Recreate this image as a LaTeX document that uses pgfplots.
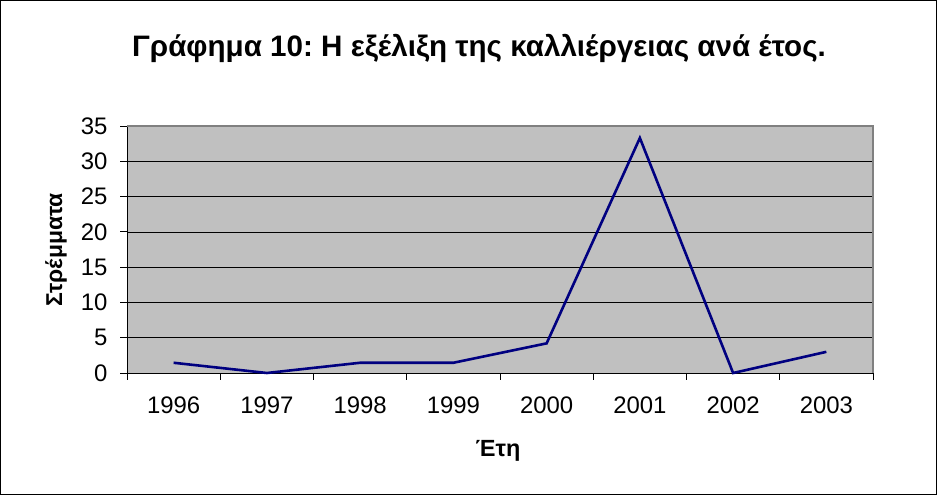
\documentclass[border=0pt]{standalone}
\usepackage{fontspec}
\setmainfont{Liberation Sans}
\usepackage{pgfplots}
\pgfplotsset{compat=1.18}
\definecolor{plotgray}{HTML}{C0C0C0}
\definecolor{edgegray}{HTML}{808080}
\definecolor{navyline}{HTML}{000080}
\frenchspacing
\begin{document}
\begin{tikzpicture}
\useasboundingbox (0,0) rectangle (937bp,495bp);
\draw[black, line width=0.8bp] (0.5bp,0.5bp) rectangle (936.5bp,494.5bp);
\begin{axis}[
  at={(127bp,122bp)}, anchor=south west,
  scale only axis, width=746bp, height=247bp,
  xmin=0.5, xmax=8.5, ymin=0, ymax=35,
  axis x line*=bottom, axis y line*=left,
  axis line style={-, black, line width=0.8bp},
  axis background/.style={fill=plotgray},
  ytick={0,5,...,35},
  ymajorgrids, major grid style={black, line width=0.7bp},
  xtick={0.5,1.5,...,8.5}, xticklabels={},
  extra x ticks={1,2,3,4,5,6,7,8},
  extra x tick labels={1996,1997,1998,1999,2000,2001,2002,2003},
  extra x tick style={major tick length=0pt, grid=none,
     xticklabel style={yshift=-20bp}},
  tick align=outside, major tick length=7bp,
  tick style={black, line width=0.8bp},
  /pgf/number format/assume math mode=true,
  ticklabel style={font=\fontsize{24}{26}\selectfont},
  yticklabel style={xshift=-9bp},
  clip=false,
]
\addplot[navyline, line width=2.6bp] coordinates {
 (1,1.45) (2,0) (3,1.45) (4,1.45) (5,4.2) (6,33.3) (7,0) (8,3)
};
\draw[edgegray, line width=2bp] (rel axis cs:0,1) -- (rel axis cs:1,1) -- (rel axis cs:1,0);
\end{axis}
\node[font=\bfseries\fontsize{29.7}{32}\selectfont] at (479bp,447bp) {Γράφημα 10: Η εξέλιξη της καλλιέργειας ανά έτος.};
\node[font=\bfseries\fontsize{23.5}{26}\selectfont] at (498bp,44bp) {Έτη};
\node[font=\bfseries\fontsize{23}{26}\selectfont, rotate=90] at (56bp,245bp) {Στρέμματα};
\end{tikzpicture}
\end{document}
